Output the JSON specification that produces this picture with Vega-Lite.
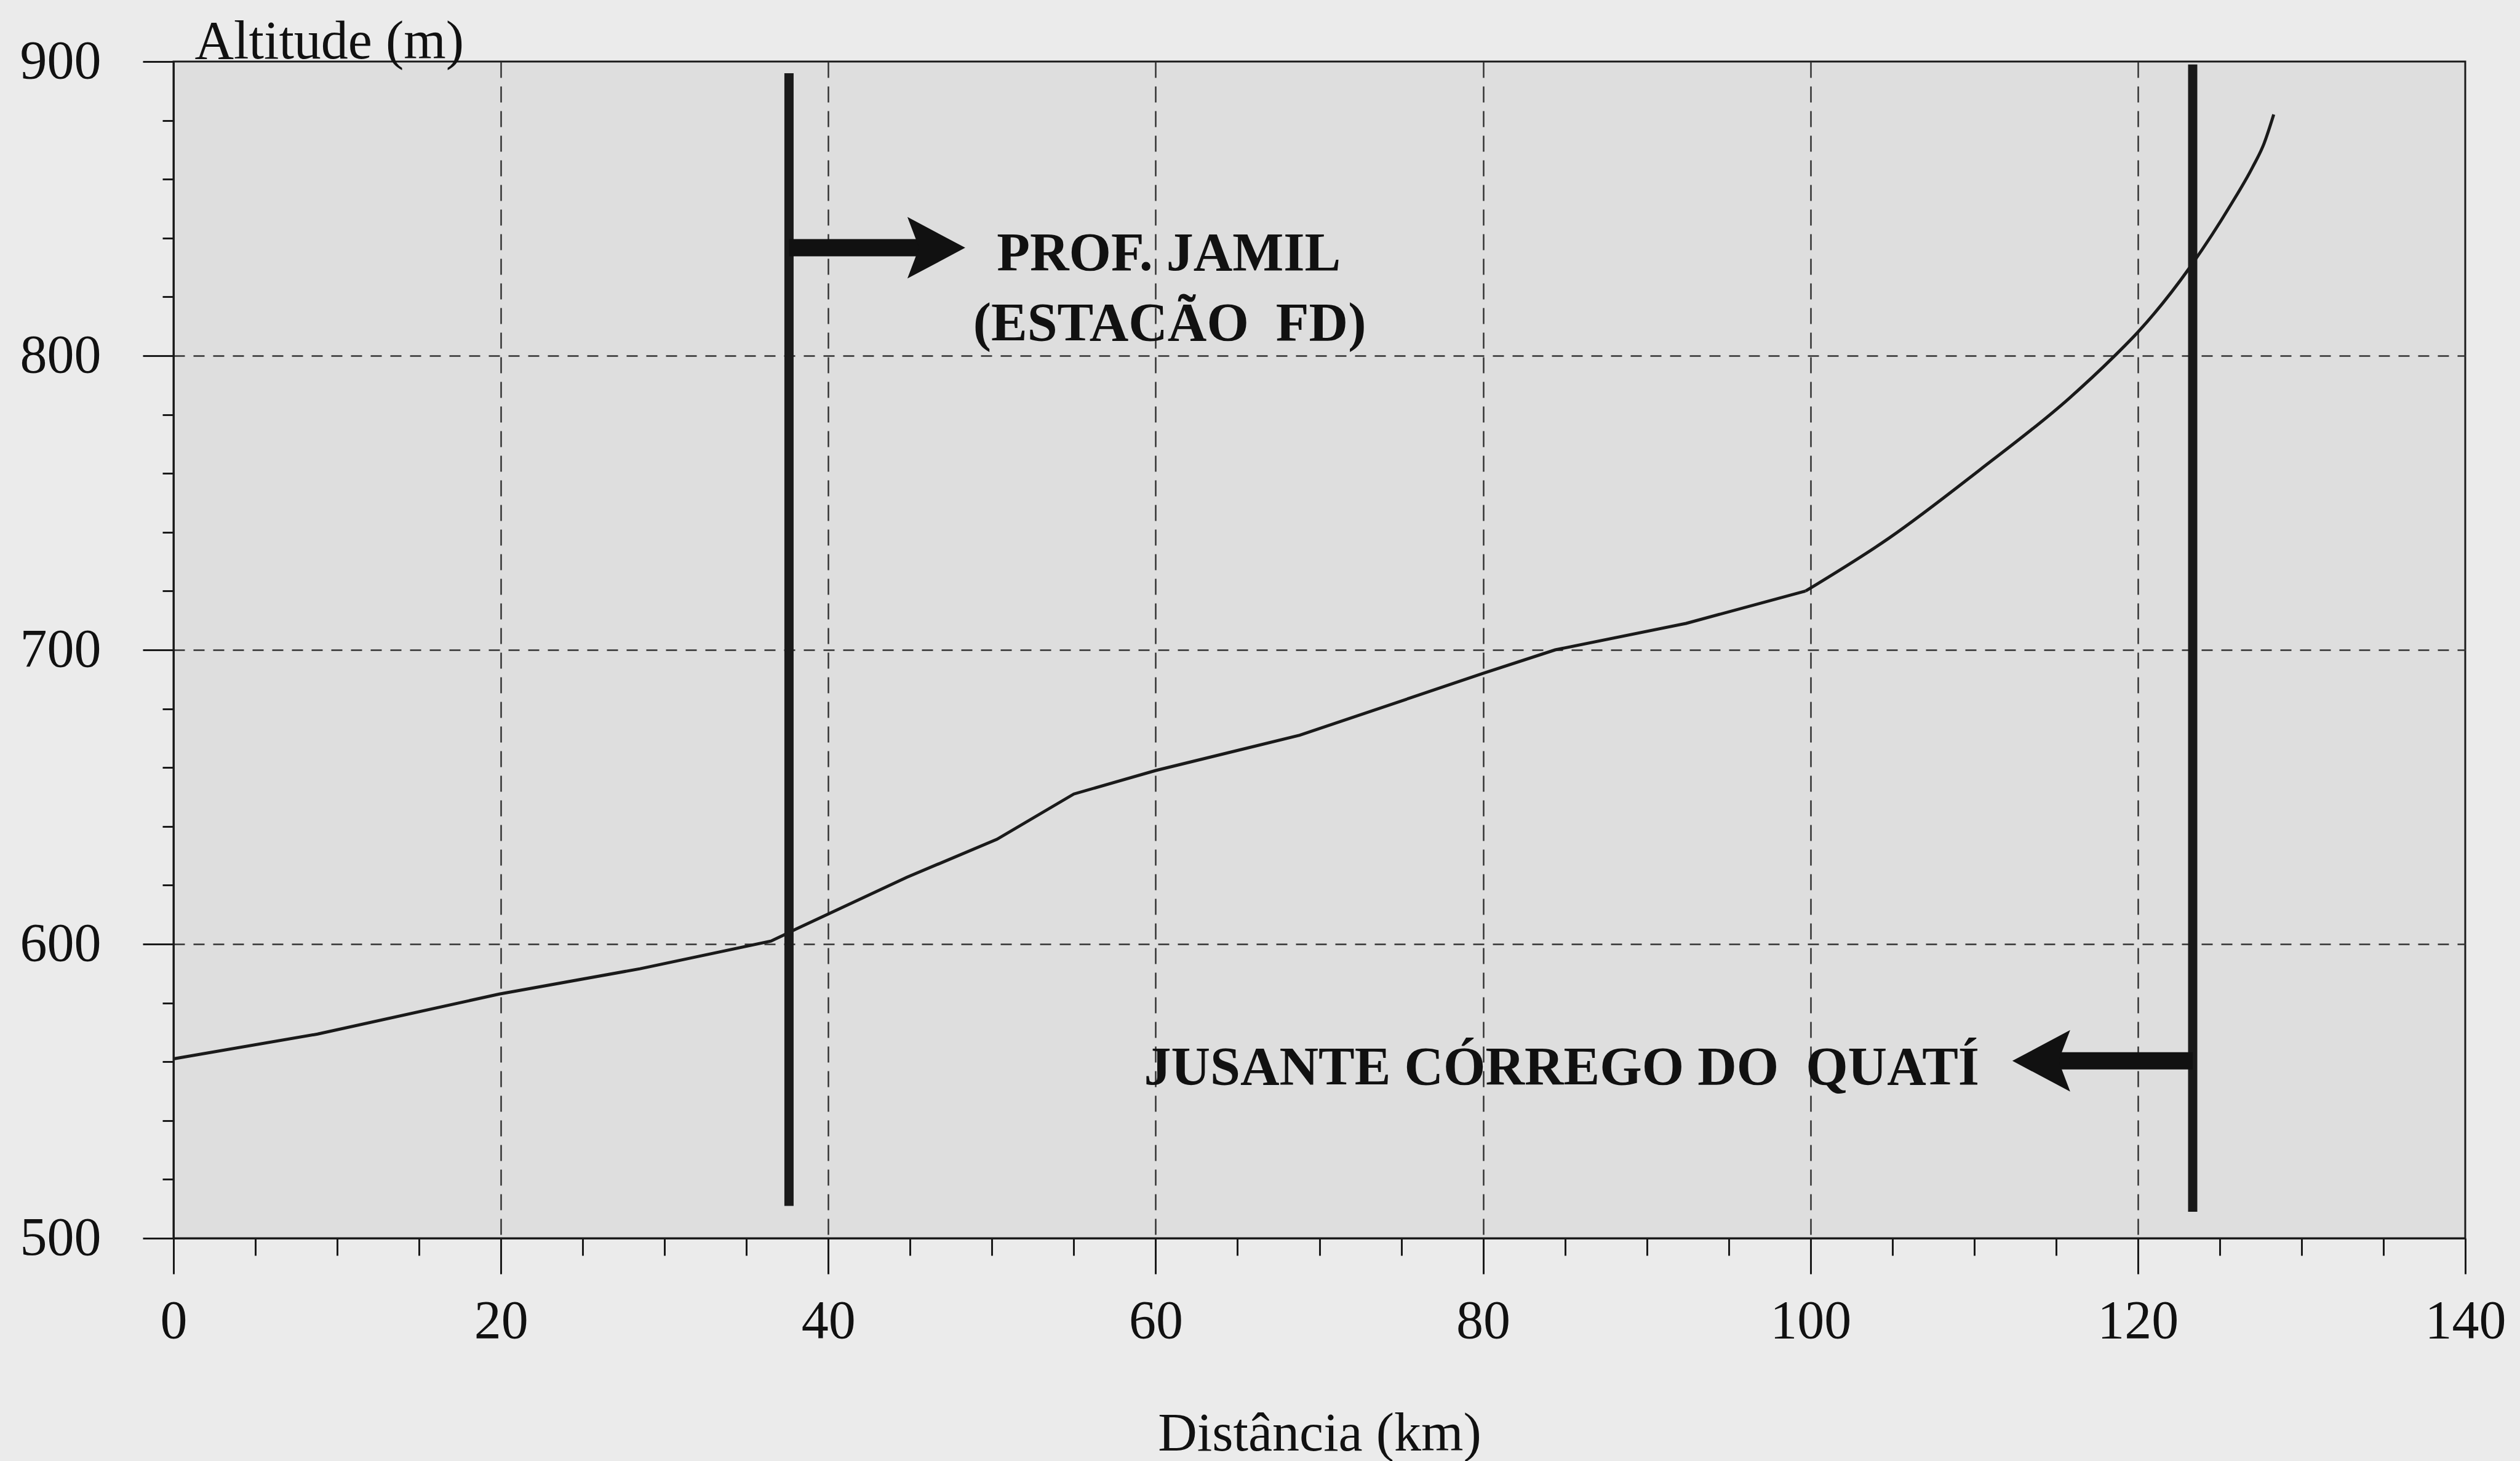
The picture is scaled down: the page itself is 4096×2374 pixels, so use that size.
{
  "$schema": "https://vega.github.io/schema/vega-lite/v6.json",
  "autosize": {"type": "none"},
  "padding": {"left": 282, "top": 100, "right": 89, "bottom": 362},
  "width": 3725,
  "height": 1912,
  "background": "#ebebeb",
  "config": {
    "view": {"fill": "#dedede", "stroke": "#1a1a1a", "strokeWidth": 3},
    "axis": {
      "domainColor": "#1a1a1a",
      "domainWidth": 3,
      "tickColor": "#1a1a1a",
      "tickWidth": 3,
      "labelColor": "#111111",
      "labelFont": "Liberation Serif",
      "labelFontSize": 88,
      "labelFlush": false,
      "labelOverlap": false,
      "titleColor": "#111111",
      "titleFont": "Liberation Serif",
      "titleFontSize": 88,
      "titleFontWeight": "normal",
      "gridColor": "#333333",
      "gridWidth": 2.5
    }
  },
  "datasets": {
    "profile": [
      {"d": 0, "h": 561},
      {"d": 8.8, "h": 569.4},
      {"d": 19.9, "h": 583},
      {"d": 28.5, "h": 591.6},
      {"d": 36.5, "h": 601},
      {"d": 38, "h": 605},
      {"d": 44.8, "h": 622.7},
      {"d": 50.3, "h": 635.6},
      {"d": 55, "h": 651},
      {"d": 60, "h": 659},
      {"d": 68.8, "h": 671},
      {"d": 80, "h": 692},
      {"d": 84.4, "h": 700},
      {"d": 92.4, "h": 709},
      {"d": 99.7, "h": 720},
      {"d": 104.8, "h": 738},
      {"d": 110.3, "h": 761},
      {"d": 115.8, "h": 785.5},
      {"d": 118.5, "h": 799.5},
      {"d": 120, "h": 808},
      {"d": 123.3, "h": 831},
      {"d": 125.7, "h": 851.5},
      {"d": 127, "h": 864},
      {"d": 127.7, "h": 872},
      {"d": 128.3, "h": 882}
    ],
    "markers": [
      {"x": 37.6, "y1": 511, "y2": 896},
      {"x": 123.35, "y1": 509, "y2": 899}
    ],
    "arrows": [
      {"x1": 37.6, "x2": 46.6, "y": 836.7, "dir": "right"},
      {"x1": 123.35, "x2": 114.1, "y": 560.3, "dir": "left"}
    ],
    "labels": [
      {"t": "PROF. JAMIL", "x": 60.8, "y": 829.1},
      {"t": "(ESTACÃO\u00a0 FD)", "x": 60.85, "y": 805.3},
      {"t": "JUSANTE CÓRREGO DO\u00a0 QUATÍ", "x": 84.8, "y": 552.4}
    ]
  },
  "layer": [
    {
      "data": {"name": "profile"},
      "transform": [{"filter": "datum.d <= 99.7"}],
      "mark": {"type": "line", "color": "#1a1a1a", "strokeWidth": 5, "clip": false},
      "encoding": {
        "x": {
          "field": "d", "type": "quantitative",
          "scale": {"domain": [0, 140], "nice": false, "zero": false},
          "axis": {
            "title": "Distância (km)",
            "titleY": 344,
            "titleBaseline": "alphabetic",
            "values": [0,5,10,15,20,25,30,35,40,45,50,55,60,65,70,75,80,85,90,95,100,105,110,115,120,125,130,135,140],
            "labelExpr": "datum.value % 20 === 0 ? datum.label : ''",
            "labelPadding": 33,
            "tickSize": {"condition": {"test": "datum.value % 20 === 0", "value": 58}, "value": 28},
            "grid": true,
            "gridDash": [26, 14],
            "gridOpacity": {"condition": {"test": "datum.value % 20 === 0 && datum.value > 0 && datum.value < 140", "value": 1}, "value": 0}
          }
        },
        "y": {
          "field": "h", "type": "quantitative",
          "scale": {"domain": [500, 900], "nice": false, "zero": false},
          "axis": {
            "title": "Altitude (m)",
            "titleAngle": 0,
            "titleAlign": "left",
            "titleBaseline": "alphabetic",
            "titleX": 34,
            "titleY": -6,
            "values": [500,520,540,560,580,600,620,640,660,680,700,720,740,760,780,800,820,840,860,880,900],
            "labelExpr": "datum.value % 100 === 0 ? datum.label : ''",
            "labelPadding": 68,
            "tickSize": {"condition": {"test": "datum.value % 100 === 0", "value": 50}, "value": 18},
            "grid": true,
            "gridDash": [18, 14],
            "gridOpacity": {"condition": {"test": "datum.value % 100 === 0 && datum.value > 500 && datum.value < 900", "value": 1}, "value": 0}
          }
        }
      }
    },
    {
      "data": {"name": "profile"},
      "transform": [{"filter": "datum.d >= 99.7"}],
      "mark": {"type": "line", "color": "#1a1a1a", "strokeWidth": 5, "interpolate": "monotone", "clip": false},
      "encoding": {
        "x": {"field": "d", "type": "quantitative"},
        "y": {"field": "h", "type": "quantitative"}
      }
    },
    {
      "data": {"name": "markers"},
      "mark": {"type": "rule", "color": "#1a1a1a", "strokeWidth": 15, "strokeCap": "butt"},
      "encoding": {
        "x": {"field": "x", "type": "quantitative"},
        "y": {"field": "y1", "type": "quantitative"},
        "y2": {"field": "y2"}
      }
    },
    {
      "data": {"name": "arrows"},
      "mark": {"type": "rule", "color": "#111111", "strokeWidth": 28, "strokeCap": "butt"},
      "encoding": {
        "x": {"field": "x1", "type": "quantitative"},
        "x2": {"field": "x2"},
        "y": {"field": "y", "type": "quantitative"}
      }
    },
    {
      "data": {"name": "arrows"},
      "mark": {"type": "point", "filled": true, "color": "#111111", "opacity": 1, "size": 10000, "strokeWidth": 0},
      "encoding": {
        "x": {"field": "x2", "type": "quantitative"},
        "y": {"field": "y", "type": "quantitative"},
        "shape": {
          "field": "dir", "type": "nominal", "legend": null,
          "scale": {"domain": ["right", "left"], "range": ["M 0.94 0 L -0.94 -1 L -0.56 0 L -0.94 1 Z", "M -0.94 0 L 0.94 -1 L 0.56 0 L 0.94 1 Z"]}
        }
      }
    },
    {
      "data": {"name": "labels"},
      "mark": {"type": "text", "font": "Liberation Serif", "fontWeight": "bold", "fontSize": 88, "align": "center", "baseline": "alphabetic", "color": "#111111"},
      "encoding": {
        "x": {"field": "x", "type": "quantitative"},
        "y": {"field": "y", "type": "quantitative"},
        "text": {"field": "t", "type": "nominal"}
      }
    }
  ]
}
